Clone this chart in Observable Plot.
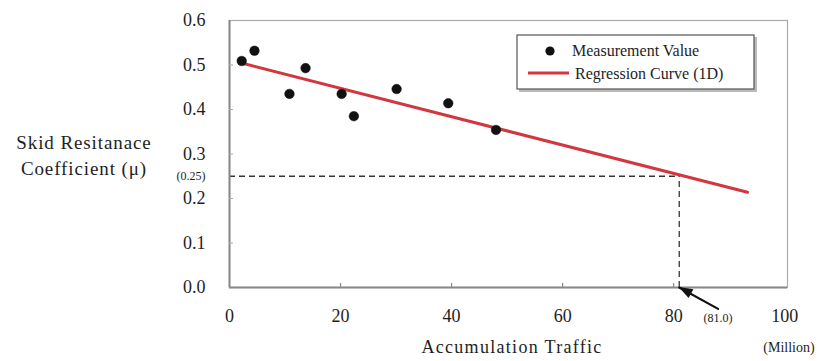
<!DOCTYPE html>
<html>
<head>
<meta charset="utf-8">
<script src="https://cdn.jsdelivr.net/npm/d3@7"></script>
<script src="https://cdn.jsdelivr.net/npm/@observablehq/plot@0.6"></script>
<style>
  html, body { margin: 0; padding: 0; background: #fff; }
  #chart { position: relative; width: 821px; height: 361px; }
</style>
</head>
<body>
<div id="chart"></div>
<script>
// Measured points (accumulation traffic in million, skid resistance coefficient)
const trafficValues = [2.2, 4.5, 10.8, 13.7, 20.2, 22.4, 30.1, 39.4, 48.0];
const skidValues    = [0.509, 0.532, 0.435, 0.493, 0.435, 0.385, 0.446, 0.414, 0.354];

// Regression curve (1D) end points
const regressionX = [2.0, 93.3];
const regressionY = [0.505, 0.214];

// Threshold annotation
const thresholdSkid = 0.25;
const thresholdTraffic = 81.0;

// Tick labels
const xTicks = [0, 20, 40, 60, 80, 100];
const yTicks = [0.0, 0.1, 0.2, 0.3, 0.4, 0.5, 0.6];

const SERIF = "'Liberation Serif', 'Times New Roman', Times, serif";
const points = trafficValues.map((t, i) => ({traffic: t, skid: skidValues[i]}));
const regression = regressionX.map((t, i) => ({traffic: t, skid: regressionY[i]}));
const arrowTail = {x: 88, y: -0.048};

const chart = Plot.plot({
  width: 821,
  height: 361,
  marginLeft: 229,
  marginRight: 34,
  marginTop: 20,
  marginBottom: 74,
  style: {fontFamily: SERIF, background: "#fff", overflow: "visible", color: "#1e1e1e"},
  x: {type: "linear", domain: [0, 100.5]},
  y: {type: "linear", domain: [0, 0.6]},
  marks: [
    Plot.frame({stroke: "#aaa", strokeWidth: 1.2}),
    // dashed threshold lines
    Plot.ruleY([thresholdSkid], {x1: 0, x2: thresholdTraffic, stroke: "#333", strokeWidth: 1.3, strokeDasharray: "6,4"}),
    Plot.ruleX([thresholdTraffic], {y1: 0, y2: thresholdSkid, stroke: "#333", strokeWidth: 1.3, strokeDasharray: "6,4"}),
    // regression line
    Plot.line(regression, {x: "traffic", y: "skid", stroke: "#d2363f", strokeWidth: 3}),
    // measurement points
    Plot.dot(points, {x: "traffic", y: "skid", symbol: "circle", r: 4.8, fill: "#111", stroke: "#111", strokeWidth: 0.5}),
    // axes
    Plot.ruleX([0], {stroke: "#888", strokeWidth: 2}),
    Plot.ruleY([0], {stroke: "#888", strokeWidth: 2}),
    Plot.axisX({ticks: xTicks, tickSize: 0, tickPadding: 22, fontSize: 18, label: null, tickFormat: d3.format("d")}),
    Plot.axisX({ticks: xTicks.slice(1, 5), tickSize: 4, dy: -4, text: null, label: null, stroke: "#888", strokeWidth: 1.2}),
    Plot.axisY({ticks: yTicks, tickSize: 0, tickPadding: 24, fontSize: 18, label: null, tickFormat: d3.format(".1f")}),
    Plot.axisY({ticks: yTicks.slice(1, 6), tickSize: 4, dx: 4, text: null, label: null, stroke: "#aaa", strokeWidth: 1}),
    // arrow pointing at threshold traffic
    Plot.arrow([{x1: arrowTail.x, y1: arrowTail.y, x2: thresholdTraffic, y2: 0}], {x1: "x1", y1: "y1", x2: "x2", y2: "y2", stroke: "#111", strokeWidth: 2.2, headLength: 0, clip: false}),
    Plot.text([`(${thresholdTraffic.toFixed(1)})`], {x: 88, y: -0.068, text: d => d, fontSize: 12, clip: false}),
    Plot.text([`(${thresholdSkid.toFixed(2)})`], {x: 0, y: thresholdSkid, dx: -24, textAnchor: "end", text: d => d, fontSize: 12})
  ]
});

const svg = d3.select(chart);
svg.attr("overflow", "visible");

// Filled arrowhead at the threshold traffic point
{
  const sx = chart.scale("x"), sy = chart.scale("y");
  const px = sx.apply(thresholdTraffic), py = sy.apply(0);
  const tx = sx.apply(arrowTail.x), ty = sy.apply(arrowTail.y);
  const ang = Math.atan2(ty - py, tx - px);
  const L = 14, W = 5;
  const bx = px + L * Math.cos(ang), by = py + L * Math.sin(ang);
  const nx = -Math.sin(ang) * W, ny = Math.cos(ang) * W;
  svg.append("path")
    .attr("d", `M${px},${py}L${bx + nx},${by + ny}L${bx - nx},${by - ny}Z`)
    .attr("fill", "#111");
}

// Titles
const titles = svg.append("g").attr("font-size", 18).attr("text-anchor", "middle");
titles.append("text").attr("x", 512).attr("y", 353)
  .attr("letter-spacing", "1.3px").text("Accumulation Traffic");
titles.append("text").attr("x", 789).attr("y", 352)
  .attr("font-size", 14).text("(Million)");
titles.append("text").attr("x", 84).attr("y", 149)
  .attr("font-size", 19).attr("letter-spacing", "0.9px").text("Skid Resitanace");
titles.append("text").attr("x", 84).attr("y", 175)
  .attr("font-size", 19).attr("letter-spacing", "0.9px").text("Coefficient (\u03bc)");

// Legend
const lg = svg.append("g").attr("transform", "translate(517,35)").attr("text-anchor", "start");
lg.append("rect").attr("x", 2).attr("y", 2).attr("width", 238).attr("height", 55).attr("fill", "#bbb");
lg.append("rect").attr("width", 237).attr("height", 54).attr("fill", "#fff").attr("stroke", "#555").attr("stroke-width", 1.2);
lg.append("circle").attr("cx", 33).attr("cy", 16).attr("r", 4.6).attr("fill", "#111");
lg.append("text").attr("x", 55).attr("y", 21).attr("font-size", 16).text("Measurement Value");
lg.append("line").attr("x1", 11).attr("x2", 52).attr("y1", 38).attr("y2", 38).attr("stroke", "#d2363f").attr("stroke-width", 3);
lg.append("text").attr("x", 58).attr("y", 44).attr("font-size", 16).text("Regression Curve (1D)");

// Force the serif face and ink colour on every text element
svg.selectAll("text").style("font-family", SERIF).style("fill", "#1e1e1e");

document.getElementById("chart").appendChild(chart);
</script>
</body>
</html>
